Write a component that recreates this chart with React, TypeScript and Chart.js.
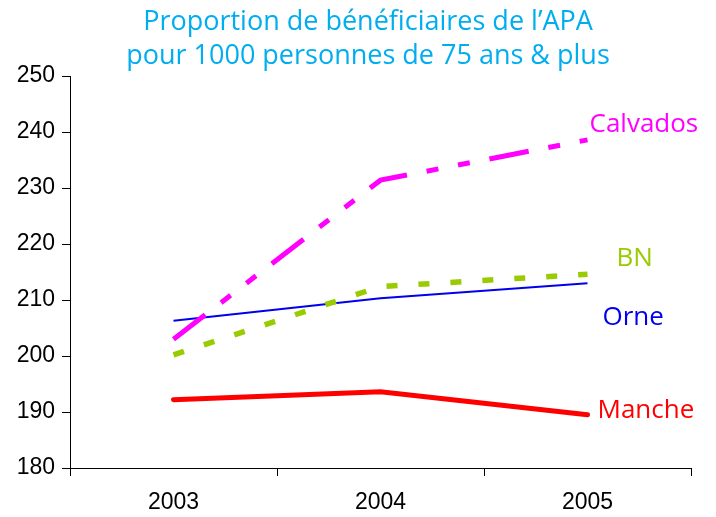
import React, { useEffect, useRef } from "react";
import { Chart, registerables } from "chart.js";

Chart.register(...registerables);

const years = ["2003", "2004", "2005"];
const calvados = [203.0, 231.4, 238.6];
const bn = [200.2, 212.4, 214.6];
const orne = [206.3, 210.3, 213.0];
const manche = [192.2, 193.6, 189.5];
const titleLines = ["Proportion de bénéficiaires de l\u2019APA", "pour 1000 personnes de 75 ans & plus"];

const FONT = "'Open Sans', 'DejaVu Sans', sans-serif";
const TICKFONT = "'Liberation Sans', Arial, sans-serif";

const labelOffsets: Record<string, [number, number]> = {
  Calvados: [2, -15],
  BN: [29, -16],
  Orne: [15, 34],
  Manche: [10, -4],
};

const endLabels = {
  id: "endLabels",
  afterDatasetsDraw(chart: any) {
    const ctx = chart.ctx;
    ctx.save();
    ctx.font = `normal 26px ${FONT}`;
    ctx.textBaseline = "middle";
    ctx.textAlign = "left";
    chart.data.datasets.forEach((ds: any, i: number) => {
      const meta = chart.getDatasetMeta(i);
      const pt = meta.data[meta.data.length - 1];
      const off = labelOffsets[ds.label] || [5, 0];
      ctx.fillStyle = ds.borderColor;
      ctx.fillText(ds.label, pt.x + off[0], pt.y + off[1]);
    });
    ctx.restore();
  },
};

const titleDraw = {
  id: "titleDraw",
  afterDraw(chart: any) {
    const ctx = chart.ctx;
    ctx.save();
    ctx.font = `500 27px ${FONT}`;
    ctx.fillStyle = "#00AEEF";
    ctx.textAlign = "center";
    ctx.textBaseline = "middle";
    const cx = chart.width / 2 + 10;
    titleLines.forEach((line, i) => ctx.fillText(line, cx, 22 + i * 34));
    ctx.restore();
  },
};

export default function App() {
  const ref = useRef<HTMLCanvasElement>(null);
  useEffect(() => {
    document.body.style.margin = "0";
    const chart = new Chart(ref.current!, {
      type: "line",
      data: {
        labels: years,
        datasets: [
          {
            label: "Calvados",
            data: calvados,
            borderColor: "#FF00FF",
            borderWidth: 5,
            borderDash: [40, 20, 12, 20, 12, 20],
            pointRadius: 0,
            tension: 0,
          },
          {
            label: "BN",
            data: bn,
            borderColor: "#99CC00",
            borderWidth: 5.5,
            borderDash: [11, 21],
            pointRadius: 0,
            tension: 0,
          },
          {
            label: "Orne",
            data: orne,
            borderColor: "#0000EE",
            borderWidth: 2,
            pointRadius: 0,
            tension: 0,
          },
          {
            label: "Manche",
            data: manche,
            borderColor: "#FF0000",
            borderWidth: 5,
            borderCapStyle: "round",
            pointRadius: 0,
            tension: 0,
          },
        ],
      },
      options: {
        animation: false,
        responsive: false,
        layout: { padding: { left: 0, right: 25, top: 76, bottom: 0 } },
        plugins: {
          legend: { display: false },
          tooltip: { enabled: false },
          title: { display: false },
        },
        scales: {
          x: {
            offset: true,
            grid: {
              offset: true,
              drawOnChartArea: false,
              drawTicks: true,
              tickLength: 8,
              color: "#000",
            },
            border: { color: "#000", width: 1 },
            ticks: { color: "#000", font: { family: TICKFONT, size: 23 }, padding: 13, maxRotation: 0 },
            afterFit: (scale: any) => {
              scale.height = 49;
            },
          },
          y: {
            min: 180,
            max: 250,
            ticks: { stepSize: 10, color: "#000", font: { family: TICKFONT, size: 23 }, padding: 7 },
            grid: { drawOnChartArea: false, tickLength: 8, color: "#000" },
            border: { color: "#000", width: 1 },
            afterFit: (scale: any) => {
              scale.width = 70;
            },
          },
        },
      },
      plugins: [endLabels, titleDraw],
    });
    return () => chart.destroy();
  }, []);
  return (
    <div style={{ width: 716, height: 517 }}>
      <canvas ref={ref} width={716} height={517} style={{ display: "block" }} />
    </div>
  );
}
